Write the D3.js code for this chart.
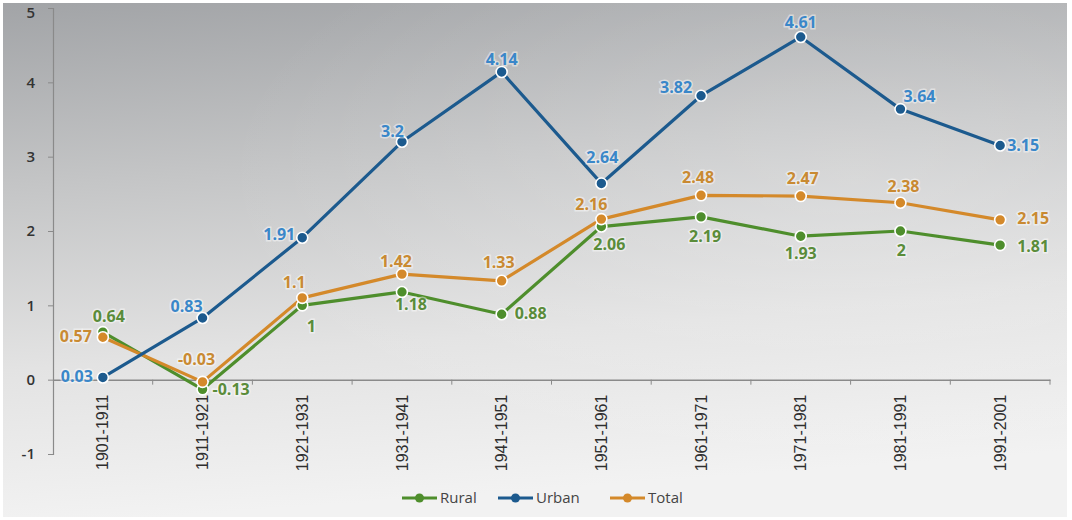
<!DOCTYPE html>
<html>
<head>
<meta charset="utf-8">
<script src="https://cdn.jsdelivr.net/npm/d3@7"></script>
<style>
  html, body { margin: 0; padding: 0; background: #ffffff; }
  svg { display: block; }
</style>
</head>
<body>
<svg id="chart" width="1072" height="520"></svg>
<script>
// Decadal growth rates (%) of population, by residence
const decades = ["1901-1911", "1911-1921", "1921-1931", "1931-1941", "1941-1951",
                 "1951-1961", "1961-1971", "1971-1981", "1981-1991", "1991-2001"];
const rural = [0.64, -0.13, 1, 1.18, 0.88, 2.06, 2.19, 1.93, 2, 1.81];
const urban = [0.03, 0.83, 1.91, 3.2, 4.14, 2.64, 3.82, 4.61, 3.64, 3.15];
const total = [0.57, -0.03, 1.1, 1.42, 1.33, 2.16, 2.48, 2.47, 2.38, 2.15];
const yTicks = [-1, 0, 1, 2, 3, 4, 5];

// Where each value label sits relative to its point: [dx, dy, anchor]
const ruralLabelPos = [[6,-10,"middle"],[10,6,"start"],[9,27,"middle"],[9,18,"middle"],[13,5,"start"],
                       [8,23,"middle"],[4,25,"middle"],[0,23,"middle"],[1,25,"middle"],[17,7,"start"]];
const urbanLabelPos = [[-10,5,"end"],[0,-6,"end"],[-7,2,"end"],[2,-5,"end"],[0,-7,"middle"],
                       [1,-20,"middle"],[-9,-3,"end"],[0,-9,"middle"],[3,-7,"start"],[7,5,"start"]];
const totalLabelPos = [[-11,5,"end"],[-6,-17,"middle"],[-8,-10,"middle"],[-6,-7,"middle"],[-3,-13,"middle"],
                       [-10,-9,"middle"],[-3,-12,"middle"],[2,-12,"middle"],[3,-11,"middle"],[17,4,"start"]];

const series = [
  { name: "Rural", values: rural, labels: ruralLabelPos, line: "#4e8e2c", text: "#5a8c3a" },
  { name: "Urban", values: urban, labels: urbanLabelPos, line: "#1c5a8e", text: "#3a87c9" },
  { name: "Total", values: total, labels: totalLabelPos, line: "#d4892a", text: "#c98a32" }
];

const svg = d3.select("#chart");
const font = "'Open Sans', 'DejaVu Sans', sans-serif";
const num = d => String(d); // plain hyphen-minus for negatives

// Grey-to-white backdrop
const defs = svg.append("defs");
const bg = defs.append("linearGradient").attr("id", "bg")
  .attr("x1", "0").attr("y1", "0").attr("x2", "0.15").attr("y2", "1");
bg.append("stop").attr("offset", "0").attr("stop-color", "#a2a4a7");
bg.append("stop").attr("offset", "0.35").attr("stop-color", "#c4c5c6");
bg.append("stop").attr("offset", "0.7").attr("stop-color", "#e3e3e3");
bg.append("stop").attr("offset", "1").attr("stop-color", "#f2f2f2");
const sheen = defs.append("radialGradient").attr("id", "sheen")
  .attr("cx", "0.8").attr("cy", "0.35").attr("r", "0.6");
sheen.append("stop").attr("offset", "0").attr("stop-color", "#ffffff").attr("stop-opacity", 0.22);
sheen.append("stop").attr("offset", "1").attr("stop-color", "#ffffff").attr("stop-opacity", 0);

svg.append("rect").attr("x", 3).attr("y", 3).attr("width", 1064).attr("height", 514).attr("fill", "url(#bg)");
svg.append("rect").attr("x", 3).attr("y", 3).attr("width", 1064).attr("height", 514).attr("fill", "url(#sheen)");

// Scales
const x = d3.scaleBand().domain(decades).range([53, 1050]).padding(0);
const y = d3.scaleLinear().domain([-1, 5]).range([454, 8]);
const cx = d => x(d) + x.bandwidth() / 2;

// Y axis
const yAxis = svg.append("g").attr("transform", "translate(53,0)")
  .call(d3.axisLeft(y).tickValues(yTicks).tickFormat(num).tickSize(5).tickPadding(13));
yAxis.select(".domain").attr("stroke", "#8a8a8a").attr("stroke-width", 1.2);
yAxis.selectAll(".tick line").attr("stroke", "#8a8a8a");
yAxis.selectAll(".tick text").attr("fill", "#333").attr("font-family", font)
  .attr("font-size", 15).attr("font-weight", 600)
  .attr("dy", d => d === 5 ? "0.62em" : "0.32em");

// X axis along zero, with labels rotated
const xAxis = svg.append("g").attr("transform", `translate(0,${y(0)})`)
  .call(d3.axisBottom(x).tickSize(0).tickPadding(0));
xAxis.select(".domain").attr("stroke", "#8a8a8a").attr("stroke-width", 1.5);
xAxis.selectAll(".tick text")
  .attr("fill", "#2e2e2e").attr("font-family", "'Liberation Sans', Arial, sans-serif").attr("font-size", 16)
  .attr("transform", "rotate(-90)")
  .attr("text-anchor", "end").attr("x", -15).attr("y", 0).attr("dy", "0.35em");
// tick marks at category boundaries
xAxis.selectAll(".bound").data(decades.slice(1).concat(["end"])).join("line")
  .attr("class", "bound")
  .attr("x1", d => d === "end" ? x.range()[1] : x(d))
  .attr("x2", d => d === "end" ? x.range()[1] : x(d))
  .attr("y1", 0).attr("y2", 5).attr("stroke", "#8a8a8a");

// Lines and markers
const line = d3.line().x((d, i) => cx(decades[i])).y(d => y(d));
const order = [series[0], series[2], series[1]];
order.forEach(s => {
  svg.append("path").datum(s.values).attr("d", line)
    .attr("fill", "none").attr("stroke", s.line).attr("stroke-width", 3.2)
    .attr("stroke-linejoin", "round");
});
order.forEach(s => {
  svg.append("g").selectAll("circle").data(s.values).join("circle")
    .attr("cx", (d, i) => cx(decades[i])).attr("cy", d => y(d)).attr("r", 5.5)
    .attr("fill", s.line).attr("stroke", "#ffffff").attr("stroke-width", 1.6);
});

// Value labels
series.forEach(s => {
  svg.append("g").selectAll("text").data(s.values).join("text")
    .attr("x", (d, i) => cx(decades[i]) + s.labels[i][0])
    .attr("y", (d, i) => y(d) + s.labels[i][1])
    .attr("text-anchor", (d, i) => s.labels[i][2])
    .attr("font-family", font).attr("font-size", 16).attr("font-weight", 700)
    .attr("fill", s.text)
    .attr("stroke", "#ffffff").attr("stroke-opacity", 0.45).attr("stroke-width", 3)
    .attr("paint-order", "stroke")
    .text(num);
});

// Legend
const legendX = [402, 498, 610];
const legend = svg.append("g");
series.forEach((s, i) => {
  const g = legend.append("g").attr("transform", `translate(${legendX[i]},498)`);
  g.append("line").attr("x1", 0).attr("x2", 35).attr("y1", 0).attr("y2", 0)
    .attr("stroke", s.line).attr("stroke-width", 3);
  g.append("circle").attr("cx", 17.5).attr("cy", 0).attr("r", 4.5).attr("fill", s.line);
  g.append("text").attr("x", 38).attr("y", 0).attr("dy", "0.35em")
    .attr("font-family", font).attr("font-size", 15).attr("fill", "#444")
    .text(s.name);
});
</script>
</body>
</html>
